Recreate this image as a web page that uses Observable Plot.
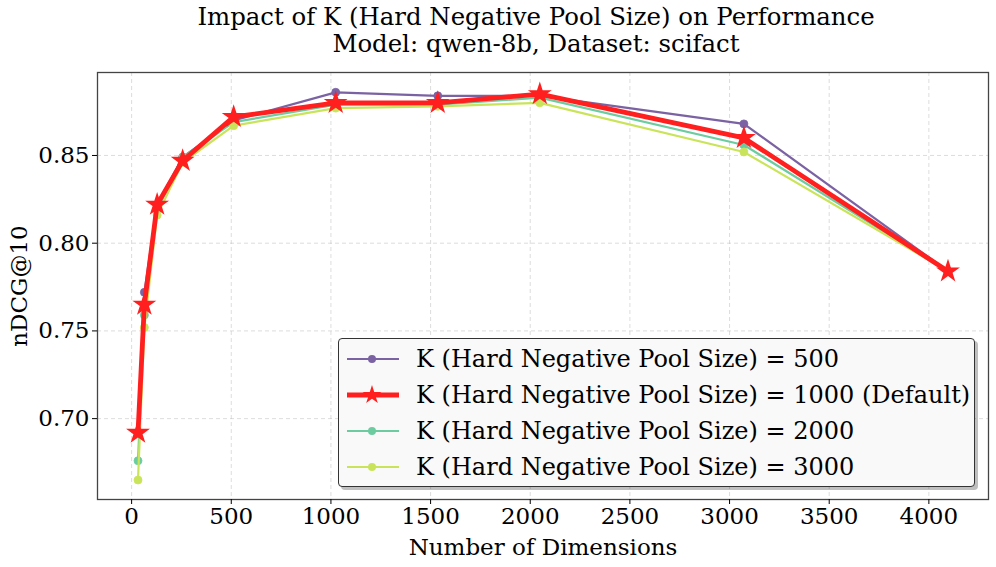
<!DOCTYPE html>
<html>
<head>
<meta charset="utf-8">
<script src="https://cdn.jsdelivr.net/npm/d3@7"></script>
<script src="https://cdn.jsdelivr.net/npm/@observablehq/plot@0.6"></script>
<style>
  body { margin: 0; background: #fff; font-family: "DejaVu Serif", serif; }
  #wrap { position: relative; width: 996px; height: 567px; }
  #title { height: 62px; text-align: center; font-size: 24.4px; line-height: 27px; padding-top: 3px; padding-left: 76px; box-sizing: border-box; color: #000; white-space: nowrap; }
  #legend { position: absolute; left: 338px; top: 338px; width: 637px; height: 149px; box-sizing: border-box;
    background: #f9f9f9; border: 1.3px solid #333; border-radius: 4px; box-shadow: 3px 3px 0 rgba(0,0,0,0.25);
    font-size: 24px; padding-top: 2px; white-space: nowrap; }
  .row { height: 36px; display: flex; align-items: center; }
  .row svg { margin-left: 8px; margin-right: 17px; }
</style>
</head>
<body>
<div id="wrap">
  <div id="title">Impact of K (Hard Negative Pool Size) on Performance<br>Model: qwen-8b, Dataset: scifact</div>
  <div id="chart"></div>
  <div id="legend"></div>
</div>
<script>
const dims = [32, 64, 128, 256, 512, 1024, 1536, 2048, 3072, 4096];
const k500  = [0.692, 0.772, 0.822, 0.849, 0.870, 0.886, 0.884, 0.884, 0.868, 0.784];
const k1000 = [0.692, 0.765, 0.822, 0.847, 0.872, 0.880, 0.880, 0.885, 0.860, 0.784];
const k2000 = [0.676, 0.759, 0.819, 0.849, 0.869, 0.879, 0.879, 0.883, 0.856, 0.784];
const k3000 = [0.665, 0.752, 0.816, 0.846, 0.867, 0.877, 0.878, 0.880, 0.852, 0.784];
const seriesNames = [
  "K (Hard Negative Pool Size) = 500",
  "K (Hard Negative Pool Size) = 1000 (Default)",
  "K (Hard Negative Pool Size) = 2000",
  "K (Hard Negative Pool Size) = 3000"
];
const xTicks = [0, 500, 1000, 1500, 2000, 2500, 3000, 3500, 4000];
const yTicks = [0.70, 0.75, 0.80, 0.85];

const colors = ["#7b62a3", "#ff1f1f", "#6ccca0", "#c9e45a"];
const values = [k500, k1000, k2000, k3000];
const series = values.map((vals, i) => dims.map((d, j) => ({dim: d, v: vals[j], s: seriesNames[i]})));

const otherOrder = [0, 2, 3];
const marks = [
  Plot.gridX(xTicks, {stroke: "#bbb", strokeOpacity: 0.5, strokeDasharray: "4,3"}),
  Plot.gridY(yTicks, {stroke: "#bbb", strokeOpacity: 0.5, strokeDasharray: "4,3"}),
];
for (const i of otherOrder) {
  marks.push(Plot.line(series[i], {x: "dim", y: "v", stroke: colors[i], strokeWidth: 2.2}));
  marks.push(Plot.dot(series[i], {x: "dim", y: "v", fill: colors[i], r: 4, stroke: colors[i], strokeWidth: 0.8}));
}
marks.push(Plot.line(series[1], {x: "dim", y: "v", stroke: colors[1], strokeWidth: 4.8}));
marks.push(Plot.dot(series[1], {x: "dim", y: "v", symbol: "star", fill: colors[1], r: 7.5}));
marks.push(Plot.frame({stroke: "#444", strokeWidth: 1.3}));
marks.push(Plot.axisX({ticks: xTicks, tickSize: 5, tickFormat: d => String(d), fontSize: 23, tickPadding: 3,
  label: "Number of Dimensions", labelAnchor: "center", labelArrow: "none", labelOffset: 55}));
marks.push(Plot.axisY({ticks: yTicks, tickSize: 5, tickFormat: d => d.toFixed(2), fontSize: 23, tickPadding: 3,
  label: "nDCG@10", labelAnchor: "center", labelArrow: "none", labelOffset: 87}));

const chart = Plot.plot({
  width: 996,
  height: 505,
  marginTop: 10,
  marginBottom: 68,
  marginLeft: 97,
  marginRight: 8,
  style: {fontFamily: "DejaVu Serif", fontSize: "24px", color: "#000", background: "#fff"},
  x: {domain: [-171.2, 4299.2]},
  y: {domain: [0.6539, 0.8973]},
  marks
});
document.getElementById("chart").appendChild(chart);

// legend
const legend = document.getElementById("legend");
seriesNames.forEach((name, i) => {
  const row = document.createElement("div");
  row.className = "row";
  const isStar = i === 1;
  const sw = isStar ? 4.8 : 2.2;
  const marker = isStar
    ? `<path d="${d3.symbol(d3.symbolStar, 110)()}" transform="translate(25,10)" fill="${colors[i]}"/>`
    : `<circle cx="25" cy="10" r="4" fill="${colors[i]}"/>`;
  row.innerHTML = `<svg width="52" height="20"><line x1="0" x2="52" y1="10" y2="10" stroke="${colors[i]}" stroke-width="${sw}"/>${marker}</svg><span>${name}</span>`;
  legend.appendChild(row);
});
</script>
</body>
</html>
